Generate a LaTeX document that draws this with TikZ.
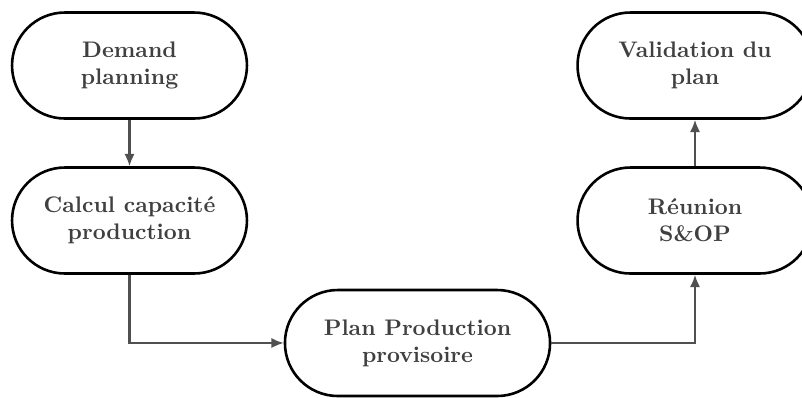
\documentclass[tikz,border=0pt]{standalone}
\usetikzlibrary{arrows.meta}
\definecolor{txtgray}{HTML}{404040}
\definecolor{arrgray}{HTML}{505050}
\begin{document}
\begin{tikzpicture}[x=0.4444pt,y=-0.4444pt,
  stadium/.style={draw=black, line width=1.15pt, fill=white, rectangle,
    rounded corners=23.5pt, minimum width=104.4pt, minimum height=47.1pt,
    align=center, font=\bfseries, text=txtgray, inner sep=0pt},
  flow/.style={draw=arrgray, line width=0.95pt,
    -{Latex[length=5.5pt,width=4.6pt]}}]
  \useasboundingbox (0,0) rectangle (802,397);
  % process steps
  \node[stadium] (dp) at (129.5,65.5) {Demand\\planning};
  \node[stadium] (cc) at (129.5,220.5) {Calcul capacité\\production};
  \node[stadium, minimum width=117.8pt] (pp) at (417.5,343) {Plan Production\\provisoire};
  \node[stadium] (ro) at (695,220.5) {Réunion\\S\&OP};
  \node[stadium] (vp) at (695,65.5) {Validation du\\plan};
  % connectors
  \draw[flow] (dp) -- (cc);
  \draw[flow] (cc.south) |- (pp.west);
  \draw[flow] (pp.east) -| (ro.south);
  \draw[flow] (ro) -- (vp);
\end{tikzpicture}
\end{document}
